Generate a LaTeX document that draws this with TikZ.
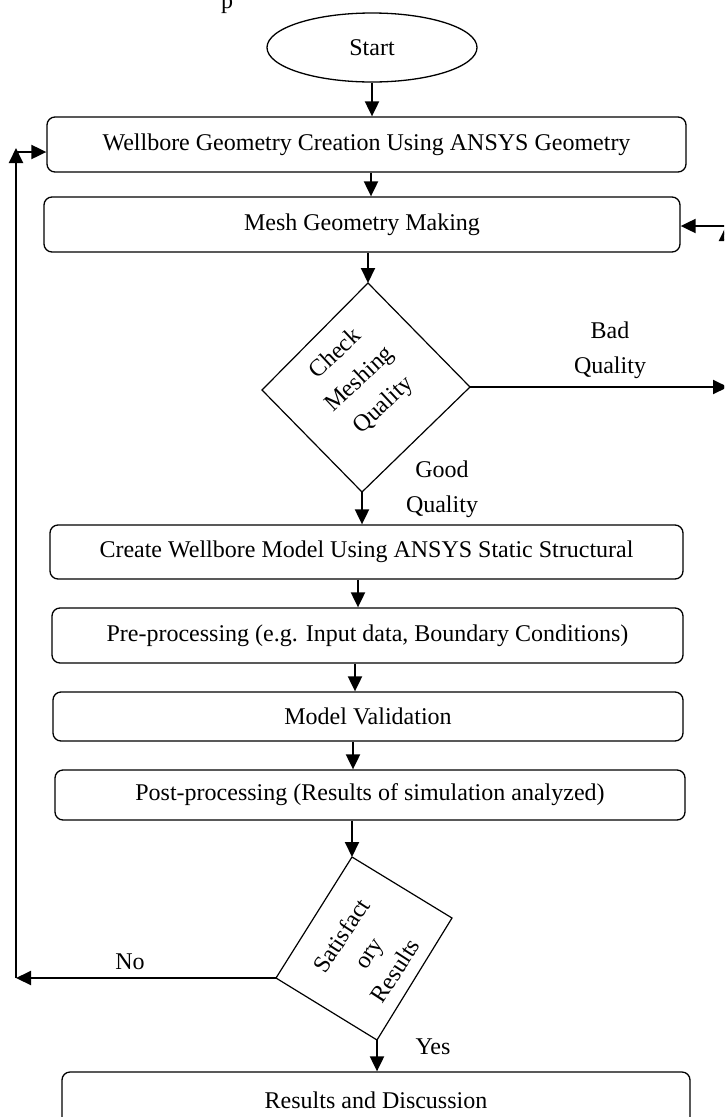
\documentclass[tikz,border=0pt]{standalone}
\usepackage{fontspec}
\setmainfont{Liberation Serif}
\usetikzlibrary{arrows.meta,shapes.geometric}
\begin{document}
\begin{tikzpicture}[x=1pt,y=-1pt,
  font=\fontsize{24}{35}\selectfont,
  procbox/.style={draw, line width=1.3pt, rounded corners=8pt, inner sep=0pt},
  flow/.style={line width=2pt, -{Triangle[length=15pt,width=14pt]}},
  decision/.style={line width=1.2pt, line join=miter},
  lbl/.style={align=center, inner sep=0pt}]
\useasboundingbox (0,0) rectangle (724,1117);
\clip (0,0) rectangle (724,1117);

% tail of the caption above the chart
\node (capfrag) [anchor=base, inner sep=0pt] at (227,8) {p};

% terminal and process boxes
\node (start) [draw, ellipse, line width=1.3pt, minimum width=210pt, minimum height=69pt, inner sep=0pt] at (372,47.5) {Start};
\node (box1) [procbox, minimum width=639pt, minimum height=55pt] at (366.5,144.5) {Wellbore Geometry Creation Using ANSYS Geometry};
\node (box2) [procbox, minimum width=636pt, minimum height=55pt] at (362,224.5) {Mesh Geometry Making};
\node (box3) [procbox, minimum width=633pt, minimum height=54pt] at (366.5,552) {Create Wellbore Model Using ANSYS Static Structural};
\node (box4) [procbox, minimum width=631pt, minimum height=55pt] at (367.5,635.5) {Pre-processing (e.g. Input data, Boundary Conditions)};
\node (box5) [procbox, minimum width=630pt, minimum height=49pt] at (368,716.5) {Model Validation};
\node (box6) [procbox, minimum width=630pt, minimum height=50pt] at (370,795) {Post-processing (Results of simulation analyzed)};
\node (box7) [procbox, minimum width=628pt, minimum height=56pt] at (376,1100) {Results and Discussion};

% first decision: mesh quality check
\coordinate (d1t) at (368,283);
\coordinate (d1r) at (470,387);
\coordinate (d1b) at (362,492);
\coordinate (d1l) at (262,390);
\draw[decision] (d1t) -- (d1r) -- (d1b) -- (d1l) -- cycle;
\node (d1txt) [lbl, rotate=43] at (360,380) {Check\\Meshing\\Quality};

% second decision: results check
\coordinate (d2t) at (352,857);
\coordinate (d2r) at (452,918);
\coordinate (d2b) at (377,1040);
\coordinate (d2l) at (276,978);
\draw[decision] (d2t) -- (d2r) -- (d2b) -- (d2l) -- cycle;
\node (d2txt) [lbl, rotate=57, font=\fontsize{24}{32}\selectfont] at (368,953) {Satisfact\\ory\\Results};

% branch labels
\node (badlbl) [lbl] at (610,350) {Bad\\Quality};
\node (goodlbl) [lbl] at (442,489.5) {Good\\Quality};
\node (yeslbl) [lbl] at (433,1047) {Yes};
\node (nolbl) [lbl] at (130,962) {No};

% main flow
\coordinate (a1) at (372,0);
\coordinate (a2) at (371,0);
\coordinate (a3) at (358,0);
\coordinate (a4) at (355,0);
\coordinate (a5) at (353,0);
\draw[flow] (start.south -| a1) -- (box1.north -| a1);
\draw[flow] (box1.south -| a2) -- (box2.north -| a2);
\draw[flow] (box2.south -| d1t) -- (d1t);
\draw[flow] (d1b) -- (d1b |- box3.north);
\draw[flow] (box3.south -| a3) -- (box4.north -| a3);
\draw[flow] (box4.south -| a4) -- (box5.north -| a4);
\draw[flow] (box5.south -| a5) -- (box6.north -| a5);
\draw[flow] (box6.south -| d2t) -- (d2t);
\draw[flow] (d2b) -- (d2b |- box7.north);

% bad-quality loop back to meshing
\coordinate (badend) at (728,387);
\coordinate (rb) at (726,400);
\coordinate (rt) at (726,226);
\draw[flow] (d1r) -- (badend);
\draw[flow] (rb) -- (rt);
\draw[flow] (rt) -- (rt -| box2.east);

% unsatisfactory loop back to geometry creation
\coordinate (lx) at (16,0);
\coordinate (nl) at (d2l -| lx);
\coordinate (lt) at (16,148);
\coordinate (lh) at (16,152);
\draw[flow] (d2l) -- (nl);
\draw[flow] (nl) -- (lt);
\draw[flow] (lh) -- (lh -| box1.west);
\end{tikzpicture}
\end{document}
